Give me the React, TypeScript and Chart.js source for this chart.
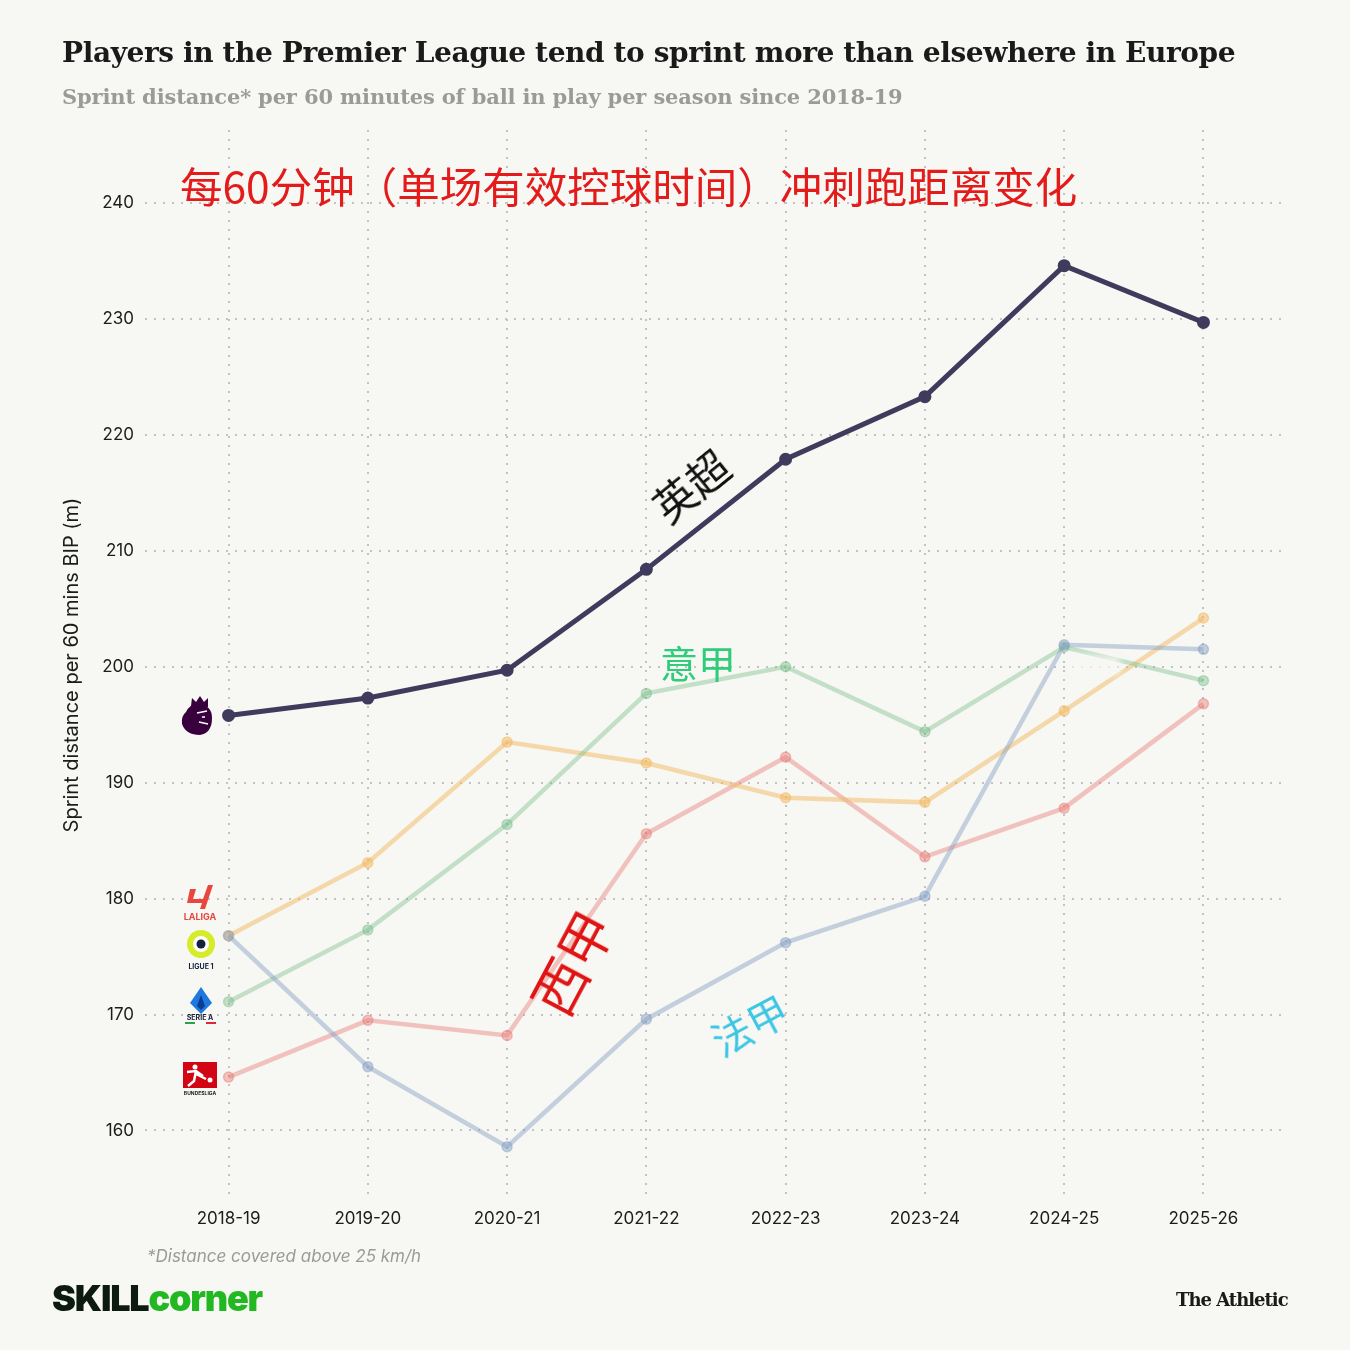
import React, { useEffect, useRef } from "react";
import { Chart, registerables } from "chart.js";

Chart.register(...registerables);

const seasons = ["2018-19", "2019-20", "2020-21", "2021-22", "2022-23", "2023-24", "2024-25", "2025-26"];
const premierLeague = [195.8, 197.3, 199.7, 208.4, 217.9, 223.3, 234.6, 229.7];
const laLiga = [176.8, 183.1, 193.5, 191.7, 188.7, 188.3, 196.2, 204.2];
const serieA = [171.1, 177.3, 186.4, 197.7, 200.0, 194.4, 201.7, 198.8];
const bundesliga = [164.6, 169.5, 168.2, 185.6, 192.2, 183.6, 187.8, 196.8];
const ligue1 = [176.8, 165.5, 158.6, 169.6, 176.2, 180.2, 201.9, 201.5];
const yTicks = [160, 170, 180, 190, 200, 210, 220, 230, 240];

const BG = "#f7f7f3";
const SANS = "Inter, 'Noto Sans', sans-serif";
const SLAB = "'DejaVu Serif', serif";
const CJK = "'Noto Sans CJK SC', sans-serif";

const toPts = (arr: number[]) => arr.map((y, i) => ({ x: i, y }));

const logosPlugin = {
  id: "logos",
  afterDraw(chart: any) {
    const ctx = chart.ctx as CanvasRenderingContext2D;
    ctx.save();
    // Premier League lion
    ctx.fillStyle = "#38003c";
    ctx.beginPath();
    ctx.moveTo(186, 712);
    ctx.quadraticCurveTo(190, 703, 200, 704);
    ctx.quadraticCurveTo(212, 706, 212, 718);
    ctx.quadraticCurveTo(212, 733, 200, 735);
    ctx.quadraticCurveTo(186, 735, 182, 724);
    ctx.quadraticCurveTo(181, 716, 186, 712);
    ctx.closePath();
    ctx.fill();
    ctx.beginPath();
    ctx.moveTo(191, 706);
    ctx.lineTo(192, 698);
    ctx.lineTo(196, 702);
    ctx.lineTo(200, 696);
    ctx.lineTo(204, 702);
    ctx.lineTo(208, 698);
    ctx.lineTo(208, 707);
    ctx.closePath();
    ctx.fill();
    ctx.strokeStyle = "#ffffff";
    ctx.lineWidth = 1.5;
    ctx.beginPath();
    ctx.moveTo(197, 713);
    ctx.lineTo(207, 711);
    ctx.moveTo(199, 722);
    ctx.lineTo(208, 724);
    ctx.moveTo(202, 717);
    ctx.lineTo(205, 717);
    ctx.stroke();

    // LaLiga
    ctx.fillStyle = "#e8473f";
    ctx.beginPath();
    ctx.moveTo(190, 889);
    ctx.lineTo(196, 889);
    ctx.lineTo(193, 899);
    ctx.lineTo(203, 899);
    ctx.lineTo(208, 885);
    ctx.lineTo(213, 885);
    ctx.lineTo(205, 909);
    ctx.lineTo(200, 909);
    ctx.lineTo(202, 903);
    ctx.lineTo(187, 903);
    ctx.closePath();
    ctx.fill();
    ctx.font = "bold 9px " + SANS;
    ctx.textAlign = "center";
    ctx.textBaseline = "middle";
    ctx.fillText("LALIGA", 200, 917);

    // Ligue 1
    ctx.fillStyle = "#d4ec2a";
    ctx.beginPath();
    ctx.arc(201, 944, 14, 0, Math.PI * 2);
    ctx.fill();
    ctx.fillStyle = "#ffffff";
    ctx.beginPath();
    ctx.arc(201, 944, 8, 0, Math.PI * 2);
    ctx.fill();
    ctx.fillStyle = "#14213d";
    ctx.beginPath();
    ctx.arc(201, 944, 4.5, 0, Math.PI * 2);
    ctx.fill();
    ctx.font = "bold 7px " + SANS;
    ctx.fillText("LIGUE 1", 201, 967);

    // Serie A
    ctx.fillStyle = "#1f78e0";
    ctx.beginPath();
    ctx.moveTo(201, 987);
    ctx.lineTo(212, 1003);
    ctx.lineTo(201, 1014);
    ctx.lineTo(190, 1003);
    ctx.closePath();
    ctx.fill();
    ctx.fillStyle = "#0b3d91";
    ctx.beginPath();
    ctx.moveTo(201, 995);
    ctx.lineTo(205, 1006);
    ctx.lineTo(201, 1010);
    ctx.lineTo(197, 1006);
    ctx.closePath();
    ctx.fill();
    ctx.fillStyle = "#1b2340";
    ctx.font = "bold 7px " + SANS;
    ctx.fillText("SERIE A", 200, 1018);
    ctx.fillStyle = "#2e9e4f";
    ctx.fillRect(185, 1022, 10, 2);
    ctx.fillStyle = "#d8283a";
    ctx.fillRect(206, 1022, 10, 2);

    // Bundesliga
    ctx.fillStyle = "#d20515";
    ctx.fillRect(183, 1062, 34, 26);
    ctx.fillStyle = "#ffffff";
    ctx.beginPath();
    ctx.arc(195, 1067, 2.5, 0, Math.PI * 2);
    ctx.fill();
    ctx.beginPath();
    ctx.arc(210, 1080, 2.5, 0, Math.PI * 2);
    ctx.fill();
    ctx.strokeStyle = "#ffffff";
    ctx.lineWidth = 2.5;
    ctx.beginPath();
    ctx.moveTo(187, 1072);
    ctx.lineTo(196, 1071);
    ctx.lineTo(203, 1076);
    ctx.moveTo(196, 1071);
    ctx.lineTo(194, 1081);
    ctx.lineTo(188, 1086);
    ctx.moveTo(196, 1074);
    ctx.lineTo(206, 1079);
    ctx.stroke();
    ctx.fillStyle = "#1b1b1b";
    ctx.font = "bold 5px " + SANS;
    ctx.fillText("BUNDESLIGA", 200, 1093);
    ctx.restore();
  },
};

export default function App() {
  const ref = useRef<HTMLCanvasElement | null>(null);

  useEffect(() => {
    if (!ref.current) return;
    const light = (c: string) => ({
      borderColor: c,
      backgroundColor: c,
      pointBackgroundColor: c,
      pointBorderColor: c,
      borderWidth: 4.5,
      pointRadius: 5,
      pointBorderWidth: 1.5,
    });
    const chart = new Chart(ref.current, {
      type: "line",
      data: {
        datasets: [
          {
            label: "Premier League",
            data: toPts(premierLeague),
            borderColor: "#3f3b5c",
            backgroundColor: "#3f3b5c",
            pointBackgroundColor: "#3f3b5c",
            pointBorderColor: "#3f3b5c",
            borderWidth: 5,
            pointRadius: 4,
          },
          { label: "Ligue 1", data: toPts(ligue1), ...light("rgba(130,158,196,0.45)") },
          { label: "Serie A", data: toPts(serieA), ...light("rgba(110,185,130,0.38)") },
          { label: "LaLiga", data: toPts(laLiga), ...light("rgba(243,186,95,0.5)") },
          { label: "Bundesliga", data: toPts(bundesliga), ...light("rgba(230,120,115,0.42)") },
        ],
      },
      options: {
        responsive: false,
        animation: false,
        devicePixelRatio: 1,
        layout: { padding: { left: 0, top: 130, right: 63, bottom: 110 } },
        plugins: { legend: { display: false }, tooltip: { enabled: false }, title: { display: false } },
        scales: {
          x: {
            type: "linear",
            min: -0.6,
            max: 7.6,
            afterBuildTicks: (s: any) => {
              s.ticks = seasons.map((_, i) => ({ value: i }));
            },
            afterFit: (s: any) => {
              s.height = 40;
            },
            ticks: {
              callback: (v: any) => seasons[Number(v)] ?? "",
              color: "#1c1c1c",
              font: { family: SANS, size: 17 },
              padding: 9,
              maxRotation: 0,
              autoSkip: false,
            },
            grid: { color: "#c3c3c3", lineWidth: 2, drawTicks: false },
            border: { display: false, dash: [2, 7] },
          },
          y: {
            min: 154,
            max: 246.3,
            afterBuildTicks: (s: any) => {
              s.ticks = yTicks.map((v) => ({ value: v }));
            },
            afterFit: (s: any) => {
              s.width = 145;
            },
            ticks: {
              color: "#1c1c1c",
              font: { family: SANS, size: 17 },
              padding: 11,
            },
            grid: { color: "#c3c3c3", lineWidth: 2, drawTicks: false },
            border: { display: false, dash: [2, 7] },
            title: {
              display: true,
              text: "Sprint distance per 60 mins BIP (m)",
              color: "#1c1c1c",
              font: { family: SANS, size: 20 },
              padding: { top: 60, bottom: 0 },
            },
          },
        },
      },
      plugins: [logosPlugin],
    } as any);
    return () => chart.destroy();
  }, []);

  const abs = (extra: React.CSSProperties): React.CSSProperties => ({
    position: "absolute",
    whiteSpace: "nowrap",
    lineHeight: 1,
    ...extra,
  });

  return (
    <div style={{ position: "absolute", left: 0, top: 0, width: 1350, height: 1350, background: BG, overflow: "hidden" }}>
      <canvas ref={ref} width={1350} height={1350} style={{ position: "absolute", left: 0, top: 0, display: "block" }} />
      <div style={abs({ left: 62, top: 39, fontFamily: SLAB, fontWeight: 700, fontSize: 28, color: "#1a1a1a", letterSpacing: -0.4 })}>
        Players in the Premier League tend to sprint more than elsewhere in Europe
      </div>
      <div style={abs({ left: 62, top: 86, fontFamily: SLAB, fontWeight: 700, fontSize: 21, color: "#9a9a9a", letterSpacing: -0.15 })}>
        Sprint distance* per 60 minutes of ball in play per season since 2018-19
      </div>
      <div style={abs({ left: 180, top: 164, fontFamily: CJK, fontSize: 42.5, color: "#e31b1b" })}>
        每60分钟（单场有效控球时间）冲刺跑距离变化
      </div>
      <div style={abs({ left: 690, top: 485, fontFamily: CJK, fontSize: 42, color: "#111", transform: "translate(-50%,-50%) rotate(-39deg)" })}>
        英超
      </div>
      <div style={abs({ left: 698, top: 662, fontFamily: CJK, fontSize: 38, color: "#2fcc7a", transform: "translate(-50%,-50%)" })}>
        意甲
      </div>
      <div style={abs({ left: 571, top: 962, fontFamily: CJK, fontSize: 54, color: "#e01414", transform: "translate(-50%,-50%) rotate(-62deg)" })}>
        西甲
      </div>
      <div style={abs({ left: 749, top: 1024, fontFamily: CJK, fontSize: 40, color: "#3cc6e4", transform: "translate(-50%,-50%) rotate(-28deg)" })}>
        法甲
      </div>
      <div style={{ position: "absolute", left: 1070, top: 655, width: 50, height: 20, background: "rgba(247,247,243,0.75)", filter: "blur(3px)" }} />
      <div style={abs({ left: 147, top: 1248, fontFamily: SANS, fontStyle: "italic", fontSize: 17, color: "#9a9a9a" })}>
        *Distance covered above 25 km/h
      </div>
      <div style={abs({ left: 52, top: 1280, fontFamily: SANS, fontWeight: 900, fontSize: 36, letterSpacing: -1.2 })}>
        <span style={{ color: "#0c1a0f" }}>SKILL</span>
        <span style={{ color: "#22b822" }}>corner</span>
      </div>
      <div style={abs({ left: 1176, top: 1291, fontFamily: SLAB, fontWeight: 700, fontSize: 18, color: "#1a1a1a", letterSpacing: -1 })}>
        The Athletic
      </div>
    </div>
  );
}
